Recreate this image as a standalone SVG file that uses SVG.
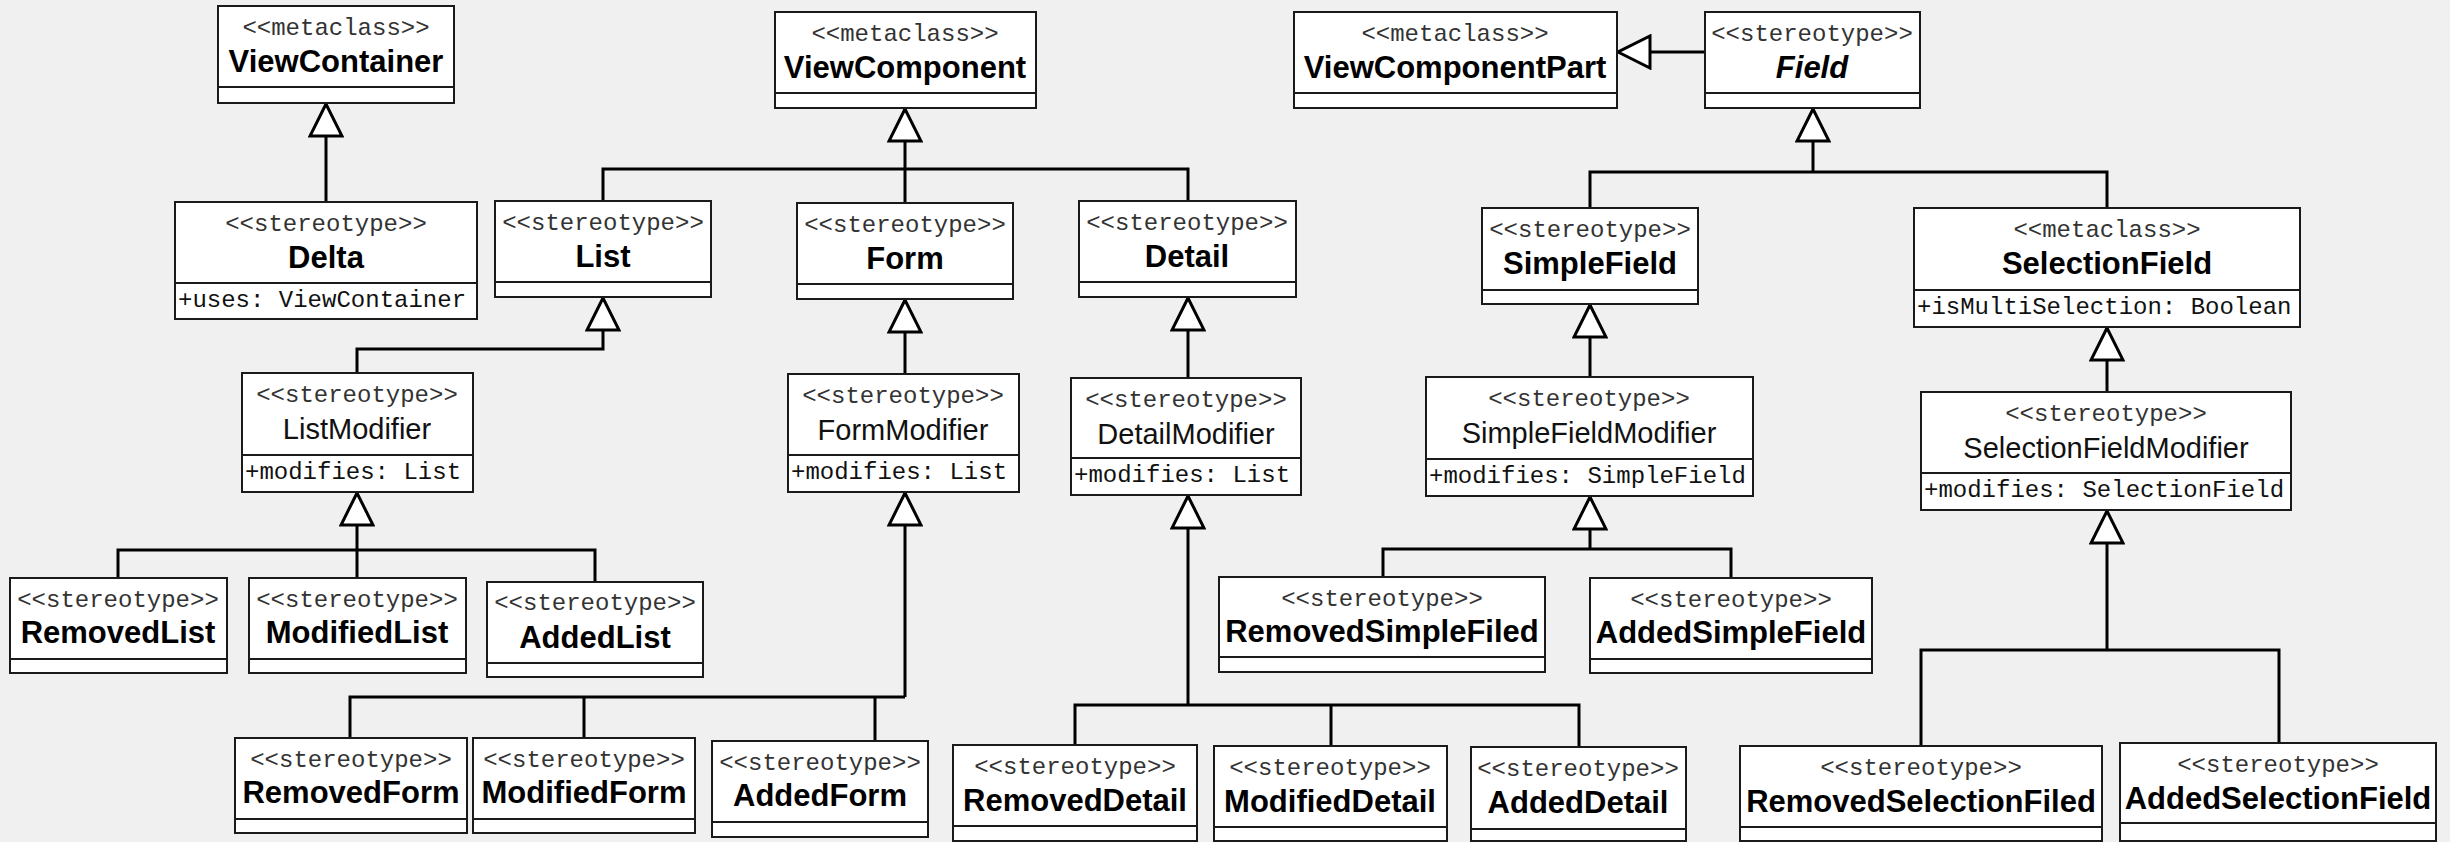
<svg xmlns="http://www.w3.org/2000/svg" width="2450" height="842" viewBox="0 0 2450 842">
<style>
.box{fill:#fff;stroke:#1a1a1a;stroke-width:2}
.sep{stroke:#1a1a1a;stroke-width:2}
.st{font-family:"Liberation Mono",monospace;font-size:24px;fill:#333;text-anchor:middle}
.nb{font-family:"Liberation Sans",sans-serif;font-size:31px;font-weight:bold;fill:#000;text-anchor:middle}
.nr{font-family:"Liberation Sans",sans-serif;font-size:29px;fill:#111;text-anchor:middle}
.ni{font-family:"Liberation Sans",sans-serif;font-size:31px;font-weight:bold;font-style:italic;fill:#000;text-anchor:middle}
.at{font-family:"Liberation Mono",monospace;font-size:24px;fill:#111}
.c{fill:none;stroke:#000;stroke-width:3}
.t{stroke-linejoin:miter}
</style>
<defs>
<marker id="tri" markerUnits="userSpaceOnUse" viewBox="0 0 36 36" refX="34" refY="18" markerWidth="36" markerHeight="36" orient="auto">
<path d="M34,18 L2,2 L2,34 Z" fill="#fff" stroke="#000" stroke-width="3"/>
</marker>
</defs>
<rect width="2450" height="842" fill="#f0f0f0"/>

<g id="connectors">
<path class="c" d="M326,202 V104" marker-end="url(#tri)"/>
<path class="c" d="M905,169 V109" marker-end="url(#tri)"/>
<path class="c" d="M603,201 V169 H1188 V201 M905,169 V203"/>
<path class="c" d="M1705,52 H1618" marker-end="url(#tri)"/>
<path class="c" d="M1813,172 V109" marker-end="url(#tri)"/>
<path class="c" d="M1590,208 V172 H2107 V208"/>
<path class="c" d="M357,373 V349 H603 V298" marker-end="url(#tri)"/>
<path class="c" d="M905,374 V300" marker-end="url(#tri)"/>
<path class="c" d="M1188,378 V298" marker-end="url(#tri)"/>
<path class="c" d="M1590,377 V305" marker-end="url(#tri)"/>
<path class="c" d="M2107,392 V328" marker-end="url(#tri)"/>
<path class="c" d="M357,550 V493" marker-end="url(#tri)"/>
<path class="c" d="M118,578 V550 H595 V582 M357,550 V578"/>
<path class="c" d="M905,697 V493" marker-end="url(#tri)"/>
<path class="c" d="M350,738 V697 H905 M584,697 V738 M875,697 V741"/>
<path class="c" d="M1188,705 V496" marker-end="url(#tri)"/>
<path class="c" d="M1075,745 V705 H1579 V747 M1331,705 V746"/>
<path class="c" d="M1590,549 V497" marker-end="url(#tri)"/>
<path class="c" d="M1383,577 V549 H1731 V578"/>
<path class="c" d="M2107,650 V511" marker-end="url(#tri)"/>
<path class="c" d="M1921,746 V650 H2279 V743"/>
</g>

<g id="ViewContainer">
<rect class="box" x="218" y="6" width="236" height="97"/><line class="sep" x1="218" y1="87" x2="454" y2="87"/>
<text class="st" x="336" y="35">&lt;&lt;metaclass&gt;&gt;</text><text class="nb" x="336" y="72">ViewContainer</text>
</g>
<g id="ViewComponent">
<rect class="box" x="775" y="12" width="261" height="96"/><line class="sep" x1="775" y1="93" x2="1036" y2="93"/>
<text class="st" x="905" y="41">&lt;&lt;metaclass&gt;&gt;</text><text class="nb" x="905" y="78">ViewComponent</text>
</g>
<g id="ViewComponentPart">
<rect class="box" x="1294" y="12" width="323" height="96"/><line class="sep" x1="1294" y1="93" x2="1617" y2="93"/>
<text class="st" x="1455" y="41">&lt;&lt;metaclass&gt;&gt;</text><text class="nb" x="1455" y="78">ViewComponentPart</text>
</g>
<g id="Field">
<rect class="box" x="1705" y="12" width="215" height="96"/><line class="sep" x1="1705" y1="93" x2="1920" y2="93"/>
<text class="st" x="1812" y="41">&lt;&lt;stereotype&gt;&gt;</text><text class="ni" x="1812" y="78">Field</text>
</g>
<g id="Delta">
<rect class="box" x="175" y="202" width="302" height="117"/><line class="sep" x1="175" y1="283" x2="477" y2="283"/>
<text class="st" x="326" y="231">&lt;&lt;stereotype&gt;&gt;</text><text class="nb" x="326" y="268">Delta</text>
<text class="at" x="178" y="307">+uses: ViewContainer</text>
</g>
<g id="List">
<rect class="box" x="495" y="201" width="216" height="96"/><line class="sep" x1="495" y1="282" x2="711" y2="282"/>
<text class="st" x="603" y="230">&lt;&lt;stereotype&gt;&gt;</text><text class="nb" x="603" y="267">List</text>
</g>
<g id="Form">
<rect class="box" x="797" y="203" width="216" height="96"/><line class="sep" x1="797" y1="284" x2="1013" y2="284"/>
<text class="st" x="905" y="232">&lt;&lt;stereotype&gt;&gt;</text><text class="nb" x="905" y="269">Form</text>
</g>
<g id="Detail">
<rect class="box" x="1079" y="201" width="217" height="96"/><line class="sep" x1="1079" y1="282" x2="1296" y2="282"/>
<text class="st" x="1187" y="230">&lt;&lt;stereotype&gt;&gt;</text><text class="nb" x="1187" y="267">Detail</text>
</g>
<g id="SimpleField">
<rect class="box" x="1482" y="208" width="216" height="96"/><line class="sep" x1="1482" y1="290" x2="1698" y2="290"/>
<text class="st" x="1590" y="237">&lt;&lt;stereotype&gt;&gt;</text><text class="nb" x="1590" y="274">SimpleField</text>
</g>
<g id="SelectionField">
<rect class="box" x="1914" y="208" width="386" height="119"/><line class="sep" x1="1914" y1="290" x2="2300" y2="290"/>
<text class="st" x="2107" y="237">&lt;&lt;metaclass&gt;&gt;</text><text class="nb" x="2107" y="274">SelectionField</text>
<text class="at" x="1917" y="314">+isMultiSelection: Boolean</text>
</g>
<g id="ListModifier">
<rect class="box" x="242" y="373" width="231" height="119"/><line class="sep" x1="242" y1="455" x2="473" y2="455"/>
<text class="st" x="357" y="402">&lt;&lt;stereotype&gt;&gt;</text><text class="nr" x="357" y="439">ListModifier</text>
<text class="at" x="245" y="479">+modifies: List</text>
</g>
<g id="FormModifier">
<rect class="box" x="788" y="374" width="231" height="118"/><line class="sep" x1="788" y1="455" x2="1019" y2="455"/>
<text class="st" x="903" y="403">&lt;&lt;stereotype&gt;&gt;</text><text class="nr" x="903" y="440">FormModifier</text>
<text class="at" x="791" y="479">+modifies: List</text>
</g>
<g id="DetailModifier">
<rect class="box" x="1071" y="378" width="230" height="117"/><line class="sep" x1="1071" y1="458" x2="1301" y2="458"/>
<text class="st" x="1186" y="407">&lt;&lt;stereotype&gt;&gt;</text><text class="nr" x="1186" y="444">DetailModifier</text>
<text class="at" x="1074" y="482">+modifies: List</text>
</g>
<g id="SimpleFieldModifier">
<rect class="box" x="1426" y="377" width="327" height="119"/><line class="sep" x1="1426" y1="459" x2="1753" y2="459"/>
<text class="st" x="1589" y="406">&lt;&lt;stereotype&gt;&gt;</text><text class="nr" x="1589" y="443">SimpleFieldModifier</text>
<text class="at" x="1429" y="483">+modifies: SimpleField</text>
</g>
<g id="SelectionFieldModifier">
<rect class="box" x="1921" y="392" width="370" height="118"/><line class="sep" x1="1921" y1="473" x2="2291" y2="473"/>
<text class="st" x="2106" y="421">&lt;&lt;stereotype&gt;&gt;</text><text class="nr" x="2106" y="458">SelectionFieldModifier</text>
<text class="at" x="1924" y="497">+modifies: SelectionField</text>
</g>
<g id="RemovedList">
<rect class="box" x="10" y="578" width="217" height="95"/><line class="sep" x1="10" y1="659" x2="227" y2="659"/>
<text class="st" x="118" y="607">&lt;&lt;stereotype&gt;&gt;</text><text class="nb" x="118" y="643">RemovedList</text>
</g>
<g id="ModifiedList">
<rect class="box" x="249" y="578" width="217" height="95"/><line class="sep" x1="249" y1="659" x2="466" y2="659"/>
<text class="st" x="357" y="607">&lt;&lt;stereotype&gt;&gt;</text><text class="nb" x="357" y="643">ModifiedList</text>
</g>
<g id="AddedList">
<rect class="box" x="487" y="582" width="216" height="95"/><line class="sep" x1="487" y1="663" x2="703" y2="663"/>
<text class="st" x="595" y="610">&lt;&lt;stereotype&gt;&gt;</text><text class="nb" x="595" y="648">AddedList</text>
</g>
<g id="RemovedSimpleFiled">
<rect class="box" x="1219" y="577" width="326" height="95"/><line class="sep" x1="1219" y1="657" x2="1545" y2="657"/>
<text class="st" x="1382" y="606">&lt;&lt;stereotype&gt;&gt;</text><text class="nb" x="1382" y="642">RemovedSimpleFiled</text>
</g>
<g id="AddedSimpleField">
<rect class="box" x="1590" y="578" width="282" height="95"/><line class="sep" x1="1590" y1="659" x2="1872" y2="659"/>
<text class="st" x="1731" y="607">&lt;&lt;stereotype&gt;&gt;</text><text class="nb" x="1731" y="643">AddedSimpleField</text>
</g>
<g id="RemovedForm">
<rect class="box" x="235" y="738" width="232" height="95"/><line class="sep" x1="235" y1="819" x2="467" y2="819"/>
<text class="st" x="351" y="767">&lt;&lt;stereotype&gt;&gt;</text><text class="nb" x="351" y="803">RemovedForm</text>
</g>
<g id="ModifiedForm">
<rect class="box" x="473" y="738" width="222" height="95"/><line class="sep" x1="473" y1="819" x2="695" y2="819"/>
<text class="st" x="584" y="767">&lt;&lt;stereotype&gt;&gt;</text><text class="nb" x="584" y="803">ModifiedForm</text>
</g>
<g id="AddedForm">
<rect class="box" x="712" y="741" width="216" height="96"/><line class="sep" x1="712" y1="822" x2="928" y2="822"/>
<text class="st" x="820" y="770">&lt;&lt;stereotype&gt;&gt;</text><text class="nb" x="820" y="806">AddedForm</text>
</g>
<g id="RemovedDetail">
<rect class="box" x="953" y="745" width="244" height="96"/><line class="sep" x1="953" y1="826" x2="1197" y2="826"/>
<text class="st" x="1075" y="774">&lt;&lt;stereotype&gt;&gt;</text><text class="nb" x="1075" y="811">RemovedDetail</text>
</g>
<g id="ModifiedDetail">
<rect class="box" x="1214" y="746" width="233" height="95"/><line class="sep" x1="1214" y1="827" x2="1447" y2="827"/>
<text class="st" x="1330" y="775">&lt;&lt;stereotype&gt;&gt;</text><text class="nb" x="1330" y="812">ModifiedDetail</text>
</g>
<g id="AddedDetail">
<rect class="box" x="1471" y="747" width="215" height="94"/><line class="sep" x1="1471" y1="829" x2="1686" y2="829"/>
<text class="st" x="1578" y="776">&lt;&lt;stereotype&gt;&gt;</text><text class="nb" x="1578" y="813">AddedDetail</text>
</g>
<g id="RemovedSelectionFiled">
<rect class="box" x="1740" y="746" width="362" height="95"/><line class="sep" x1="1740" y1="827" x2="2102" y2="827"/>
<text class="st" x="1921" y="775">&lt;&lt;stereotype&gt;&gt;</text><text class="nb" x="1921" y="812">RemovedSelectionFiled</text>
</g>
<g id="AddedSelectionField">
<rect class="box" x="2120" y="743" width="316" height="98"/><line class="sep" x1="2120" y1="823" x2="2436" y2="823"/>
<text class="st" x="2278" y="772">&lt;&lt;stereotype&gt;&gt;</text><text class="nb" x="2278" y="809">AddedSelectionField</text>
</g>
</svg>
